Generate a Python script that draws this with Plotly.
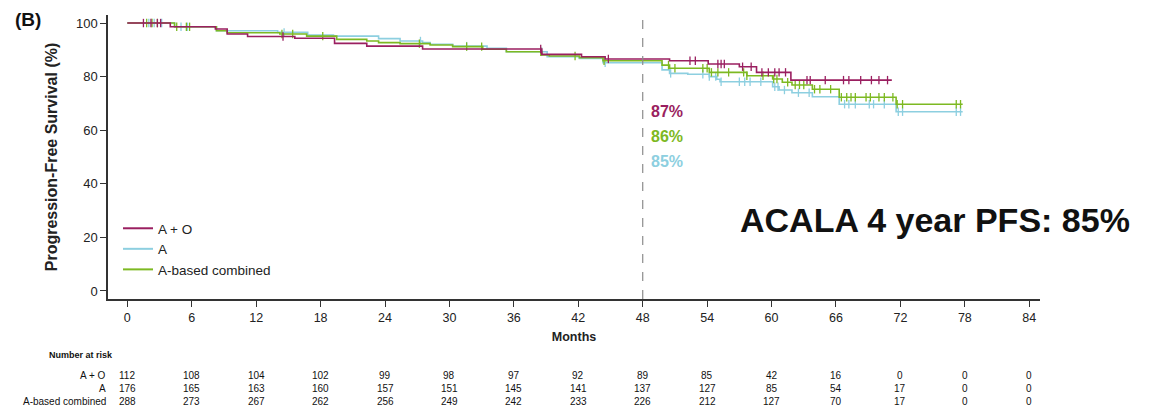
import plotly.graph_objects as go

# ---------------- data ----------------
months_ticks = [0, 6, 12, 18, 24, 30, 36, 42, 48, 54, 60, 66, 72, 78, 84]

ao_t = [0, 4.0, 8.2, 9.3, 11.2, 15.6, 19.3, 22.3, 27.5, 38.6, 42.3, 44.5, 50.5, 54.1, 57.0, 58.6, 61.8]
ao_s = [100, 98.6, 97.8, 95.9, 95.0, 94.3, 92.4, 91.4, 90.3, 88.3, 87.4, 86.6, 85.9, 84.7, 83.7, 81.6, 78.7]
ao_end = 71.2
ao_cens = [1.5, 2.2, 2.8, 3.1, 14.5, 38.5, 44.8, 52.4, 52.9, 55.0, 55.3, 55.6, 57.3, 58.1, 59.1, 59.7,
           60.3, 60.7, 61.3, 63.3, 63.6, 65.0, 66.7, 67.2, 68.3, 69.3, 70.0, 70.8]

a_t = [0, 4.4, 8.3, 14.0, 16.8, 19.2, 23.4, 25.4, 27.5, 28.2, 30.3, 33.5, 35.3, 39.1, 42.1, 44.3,
       49.8, 50.5, 52.2, 54.2, 54.9, 55.2, 60.1, 60.7, 61.9, 63.8, 66.3, 71.6]
a_s = [100, 98.6, 97.1, 96.5, 95.5, 95.1, 94.2, 93.3, 92.7, 92.1, 91.4, 90.6, 89.3, 87.4, 86.8, 85.2,
       82.5, 81.2, 80.9, 80.0, 79.0, 78.1, 76.2, 75.0, 74.0, 72.5, 69.7, 66.9]
a_end = 77.8
a_cens = [2.0, 2.5, 3.2, 5.0, 5.6, 14.6, 27.3, 31.6, 38.6, 44.5, 50.6, 53.6, 54.2, 54.8, 55.3, 57.0,
          57.5, 58.0, 59.0, 60.3, 60.6, 61.2, 62.5, 63.5, 66.8, 67.2, 67.8, 69.1, 69.5, 70.5, 71.8,
          72.2, 77.2, 77.6]

c_t = [0, 4.4, 8.3, 9.3, 14.2, 16.7, 19.5, 22.3, 23.4, 25.4, 28.2, 30.3, 33.1, 35.3, 38.6, 39.3,
       42.1, 44.3, 49.8, 50.5, 54.2, 57.7, 60.1, 61.0, 61.9, 63.8, 66.3, 71.6]
c_s = [100, 98.6, 97.1, 96.4, 95.9, 95.1, 93.9, 93.3, 92.7, 92.3, 91.8, 91.2, 90.2, 89.3, 88.1, 87.7,
       87.1, 85.9, 84.3, 83.1, 81.6, 80.3, 79.1, 77.9, 76.9, 75.3, 72.3, 69.7]
c_end = 77.8
c_cens = [1.8, 2.3, 2.8, 4.6, 5.5, 5.8, 14.4, 15.4, 18.2, 27.2, 31.6, 33.0, 38.5, 41.7, 44.4, 50.4,
          51.0, 53.6, 54.0, 54.4, 55.0, 56.0, 57.4, 57.7, 59.2, 60.2, 60.5, 61.5, 62.2, 62.6, 63.0,
          64.0, 64.5, 65.5, 66.5, 67.0, 67.4, 67.8, 68.8, 69.2, 70.0, 70.5, 71.3, 71.7, 72.2, 77.2, 77.6]

risk_labels = ["A + O", "A", "A-based combined"]
risk_ao = [112, 108, 104, 102, 99, 98, 97, 92, 89, 85, 42, 16, 0, 0, 0]
risk_a = [176, 165, 163, 160, 157, 151, 145, 141, 137, 127, 85, 54, 17, 0, 0]
risk_c = [288, 273, 267, 262, 256, 249, 242, 233, 226, 212, 127, 70, 17, 0, 0]

pct_labels = ["87%", "86%", "85%"]

# ---------------- style ----------------
C_AO = "#9a1f60"
C_A = "#8dcfe0"
C_C = "#7db922"
NARROW = "Liberation Sans Narrow, Arial Narrow, Liberation Sans, sans-serif"
BOLDF = "Liberation Sans, Arial, sans-serif"

PLOT_L, PLOT_R, PLOT_TOP, PLOT_BOT = 108, 1040, 15, 299


def py(ypx):
    return (PLOT_BOT - ypx) / (PLOT_BOT - PLOT_TOP)


def px(xpx):
    return (xpx - PLOT_L) / (PLOT_R - PLOT_L)


def surv_at(t, ts, ss):
    v = ss[0]
    for ti, si in zip(ts, ss):
        if ti <= t:
            v = si
    return v


fig = go.Figure()

series = [
    ("A + O", ao_t, ao_s, ao_end, ao_cens, C_AO),
    ("A", a_t, a_s, a_end, a_cens, C_A),
    ("A-based combined", c_t, c_s, c_end, c_cens, C_C),
]
for idx in [1, 2, 0]:
    name, ts, ss, end, cens, col = series[idx]
    fig.add_trace(go.Scatter(
        x=ts + [end], y=ss + [ss[-1]], mode="lines", line=dict(color=col, width=1.6, shape="hv"),
        name=name, showlegend=False, hoverinfo="skip"))
    fig.add_trace(go.Scatter(
        x=cens, y=[surv_at(c, ts, ss) for c in cens], mode="markers",
        marker=dict(symbol="line-ns", size=6, line=dict(color=col, width=1.3)),
        showlegend=False, hoverinfo="skip"))

for name, ts, ss, end, cens, col in series:
    fig.add_trace(go.Scatter(x=[None], y=[None], mode="lines", line=dict(color=col, width=2),
                             name=name, showlegend=True))

fig.add_shape(type="line", x0=48, x1=48, xref="x", y0=0, y1=1, yref="paper",
              line=dict(color="#8c8c8c", width=1.2, dash="dash"))

for lab, yv, col in zip(pct_labels, [66.8, 57.5, 48.5], [C_AO, C_C, C_A]):
    fig.add_annotation(x=48.6, y=yv, xref="x", yref="y", text="<b>" + lab + "</b>", showarrow=False,
                       xanchor="left", yanchor="middle",
                       font=dict(family=NARROW, size=16, color=col))

fig.add_annotation(x=px(935), y=py(220), xref="paper", yref="paper",
                   text="<b>ACALA 4 year PFS: 85%</b>", showarrow=False,
                   xanchor="center", yanchor="middle",
                   font=dict(family=BOLDF, size=34, color="#111111"))

fig.add_annotation(text="<b>(B)</b>", x=px(28), y=py(20), xref="paper", yref="paper",
                   showarrow=False, xanchor="center", yanchor="middle",
                   font=dict(family=BOLDF, size=19, color="#111111"))

fig.add_annotation(text="<b>Number at risk</b>", x=px(47), y=py(355), xref="paper", yref="paper",
                   showarrow=False, xanchor="left", yanchor="middle",
                   font=dict(family=NARROW, size=9, color="#111111"))
for row_lab, row_vals, ypx in zip(risk_labels, [risk_ao, risk_a, risk_c], [375, 388, 401]):
    fig.add_annotation(text=row_lab, x=px(108), y=py(ypx), xref="paper", yref="paper",
                       showarrow=False, xanchor="right", yanchor="middle",
                       font=dict(family=NARROW, size=10, color="#111111"))
    for m, v in zip(months_ticks, row_vals):
        fig.add_annotation(text=str(v), x=m, y=py(ypx), xref="x", yref="paper",
                           showarrow=False, xanchor="center", yanchor="middle",
                           font=dict(family=NARROW, size=10, color="#111111"))

fig.update_layout(
    width=1156, height=414,
    margin=dict(l=PLOT_L, r=1156 - PLOT_R, t=PLOT_TOP, b=414 - PLOT_BOT, autoexpand=False),
    paper_bgcolor="white", plot_bgcolor="white",
    showlegend=True,
    legend=dict(x=px(118), y=py(213), xanchor="left", yanchor="top", bgcolor="rgba(0,0,0,0)",
                font=dict(family=NARROW, size=13.5, color="#222222"), tracegroupgap=0,
                itemwidth=30),
    xaxis=dict(range=[-1.8, 85], tickmode="array", tickvals=months_ticks, automargin=False,
               showgrid=False, zeroline=False, showline=True, linecolor="#333333", linewidth=1.5,
               ticks="outside", ticklen=6, tickcolor="#333333",
               tickfont=dict(family=NARROW, size=12.5, color="#222222"),
               title=dict(text="<b>Months</b>", font=dict(family=NARROW, size=12.5, color="#222222"),
                          standoff=8)),
    yaxis=dict(range=[-3, 103], tickmode="array", tickvals=[0, 20, 40, 60, 80, 100], automargin=False,
               showgrid=False, zeroline=False, showline=True, linecolor="#333333", linewidth=1.5,
               ticks="outside", ticklen=6, tickcolor="#333333",
               tickfont=dict(family=NARROW, size=13, color="#222222"),
               title=dict(text="<b>Progression-Free Survival (%)</b>",
                          font=dict(family=BOLDF, size=16, color="#222222"),
                          standoff=14)),
)

fig.write_html("out.html", post_script="document.body.style.margin='0px';",
               config={"displayModeBar": False})
